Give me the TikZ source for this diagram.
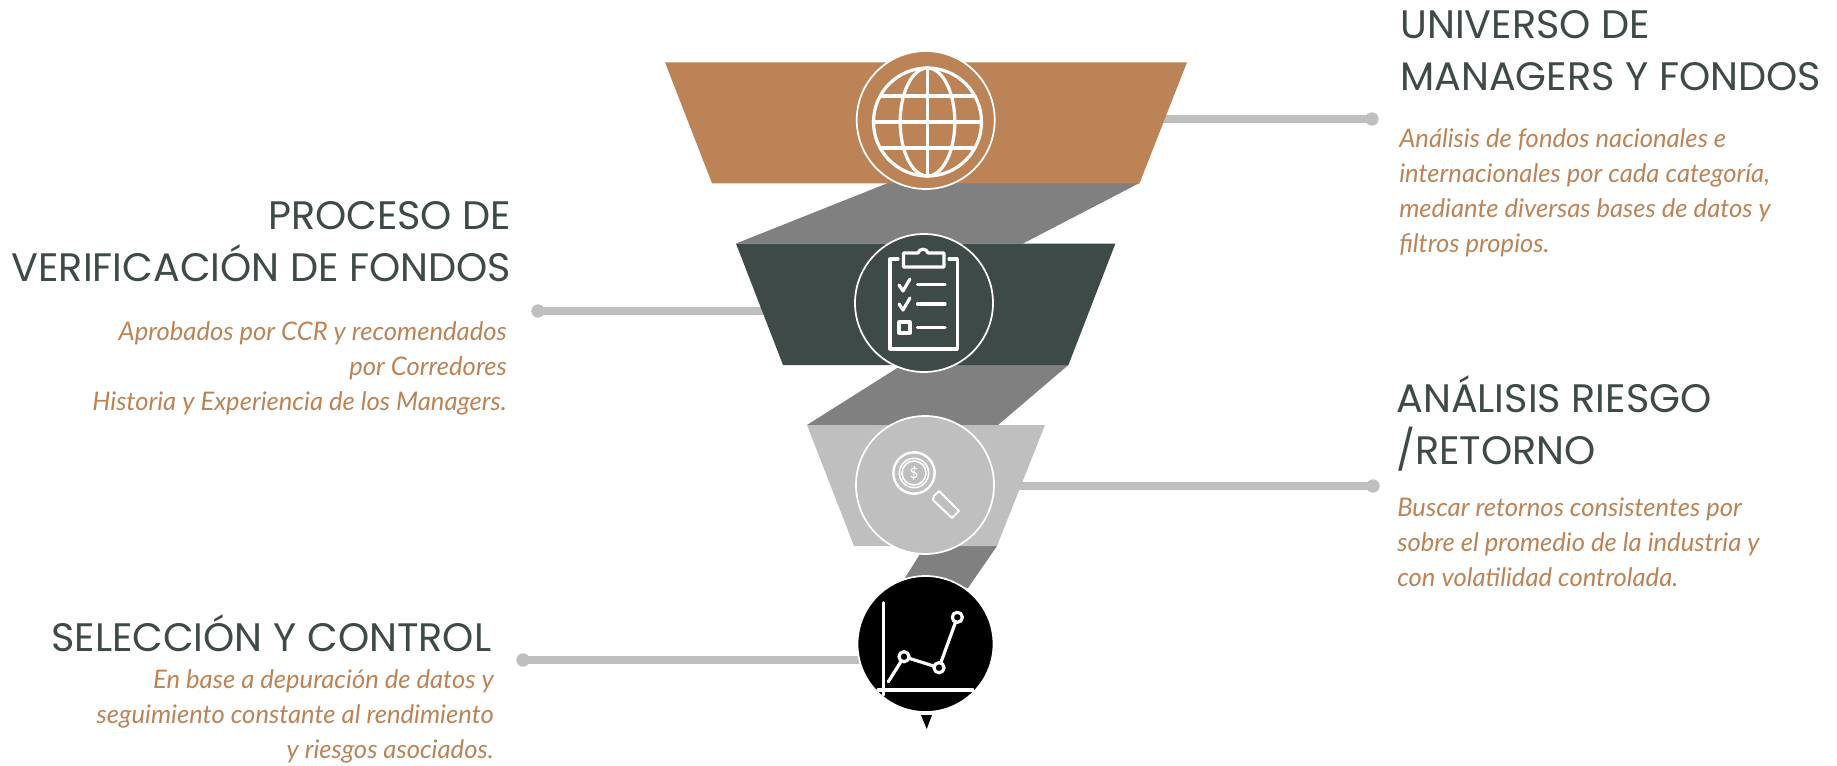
\documentclass[tikz,border=0pt]{standalone}
\usepackage{fontspec}
\setmainfont{Lato}
\newfontfamily\headfont{Poppins}
\newfontfamily\descfont{Lato}
\definecolor{copper}{HTML}{BC8357}
\definecolor{slate}{HTML}{3E4A47}
\definecolor{silver}{HTML}{BFBFBF}
\definecolor{band}{HTML}{808080}
\tikzset{
  x=0.75pt,y=-0.75pt,
  heading/.style={font=\headfont\fontsize{29.8}{39}\selectfont,text=slate,inner sep=0pt},
  desc/.style={font=\descfont\itshape\fontsize{19.2}{26.2}\selectfont,text=copper,inner sep=0pt},
  leader/.style={draw=silver,line width=6pt,shorten <=-3pt},
  dotend/.style={circle,fill=silver,minimum size=10pt,inner sep=0pt},
  badge/.style={circle,draw=white,line width=1.3pt,minimum size=103.5pt,inner sep=0pt},
  iconline/.style={draw=white,line width=2.4pt,line cap=round,line join=round},
  thinicon/.style={draw=white,line width=1.2pt,line cap=round,line join=round},
}
\begin{document}
\begin{tikzpicture}
\useasboundingbox (0,0) rectangle (1837,765);
% anchors
\node[dotend] (d1) at (1372,119) {};
\node[dotend] (d2) at (538,311) {};
\node[dotend] (d3) at (1373,486) {};
\node[dotend] (d4) at (523,660) {};
\coordinate (e1) at (1120,119);
\coordinate (e2) at (800,311);
\coordinate (e3) at (1000,486);
\coordinate (e4) at (900,660);
\draw[leader] (d1) -- (e1);
\draw[leader] (d2) -- (e2);
\draw[leader] (d3) -- (e3);
\draw[leader] (d4) -- (e4);
% bands
\fill[band] (888,183) -- (1139.5,183) -- (1023,243.5) -- (736,243.5) -- cycle;
\fill[band] (902,365) -- (1068.4,365) -- (998,425) -- (807,425) -- cycle;
\fill[band] (925,546) -- (997,546) -- (968,588) -- (905,578) -- cycle;
% trapezoids
\fill[copper] (665,62.3) -- (1187,62.3) -- (1139.5,183.3) -- (712,183.3) -- cycle;
\fill[slate] (736,243.5) -- (1115.4,243.5) -- (1068.4,365) -- (783,365) -- cycle;
\fill[silver] (807,425) -- (1045,425) -- (997,546) -- (854,546) -- cycle;
% badges
\node[badge,fill=copper] (c1) at (925.7,120) {};
\node[badge,fill=slate] (c2) at (924,303) {};
\node[badge,fill=silver] (c3) at (925,485) {};
\node[badge,fill=black,minimum size=102pt] (c4) at (925.5,644) {};
% globe
\begin{scope}[shift={(927.5,122)},iconline]
  \draw (0,0) circle[radius=40.5pt];
  \draw (0,0) ellipse[x radius=20.5pt,y radius=40.5pt];
  \draw (0,-54) -- (0,54);
  \draw (-54,0) -- (54,0);
  \draw (-45.5,-26) -- (45.5,-26);
  \draw (-45.5,26) -- (45.5,26);
\end{scope}
% clipboard
\begin{scope}[iconline]
  \draw (898,259) -- (890,259) -- (890,349) -- (957.4,349) -- (957.4,259) -- (949,259);
  \draw (903.4,253) -- (918,253) .. controls (919,248) and (927,248) .. (928,253) -- (944,253) -- (944,267) -- (903.4,267) -- cycle;
  \draw (899,285) -- (903,291) -- (910,279);
  \draw (899,304) -- (903,310) -- (910,298);
  \draw (917.5,284.3) -- (945,284.3);
  \draw (917.5,304) -- (945,304);
  \draw (917.5,327.7) -- (945,327.7);
  \draw (899,322) rectangle (910,333);
\end{scope}
% magnifier
\begin{scope}[thinicon]
  \draw[line width=1.8pt] (914,473) circle[radius=15.5pt];
  \draw (914,473) circle[radius=11pt];
  \draw (914,473) circle[radius=9pt];
  \node[text=white,inner sep=0pt,font=\fontsize{11}{11}\selectfont] (dollar) at (914,473) {\$};
  \draw[line width=1.5pt] (934,496) -- (939,491) -- (959,511) -- (952,518) -- (933,500) -- cycle;
\end{scope}
% chart
\begin{scope}[iconline]
  \draw (883.3,602.7) -- (883.3,695);
  \draw (878,690) -- (972.7,690);
  \draw (888.3,681.7) -- (904,656.7) -- (939,667.7) -- (957.3,617.3);
  \draw[fill=black] (904,656.7) circle[radius=3.8pt];
  \draw[fill=black] (939,667.7) circle[radius=3.8pt];
  \draw[fill=black] (957.3,617.3) circle[radius=3.8pt];
\end{scope}
% pointer
\fill[black] (921,715) -- (932,715) -- (926.7,729) -- cycle;
% texts
\node[heading,anchor=base west,align=left] (h1) at (1400,90) {UNIVERSO DE\\MANAGERS Y FONDOS};
\node[desc,anchor=base west,align=left] (t1) at (1399,252) {Análisis de fondos nacionales e\\internacionales por cada categoría,\\mediante diversas bases de datos y\\filtros propios.};
\node[heading,anchor=base east,align=right] (h2) at (511.5,281) {PROCESO DE\\VERIFICACIÓN DE FONDOS};
\node[desc,anchor=base east,align=right] (t2) at (507,410) {Aprobados por CCR y recomendados\\por Corredores\\Historia y Experiencia de los Managers.};
\node[heading,anchor=base west,align=left] (h3) at (1396,464.5) {ANÁLISIS RIESGO\\/RETORNO};
\node[desc,anchor=base west,align=left] (t3) at (1397,586) {Buscar retornos consistentes por\\sobre el promedio de la industria y\\con volatilidad controlada.};
\node[heading,anchor=base east] (h4) at (491.5,651) {SELECCIÓN Y CONTROL};
\node[desc,anchor=base east,align=right] (t4) at (494,758) {En base a depuración de datos  y\\seguimiento constante al rendimiento\\y riesgos asociados.};
\end{tikzpicture}
\end{document}
